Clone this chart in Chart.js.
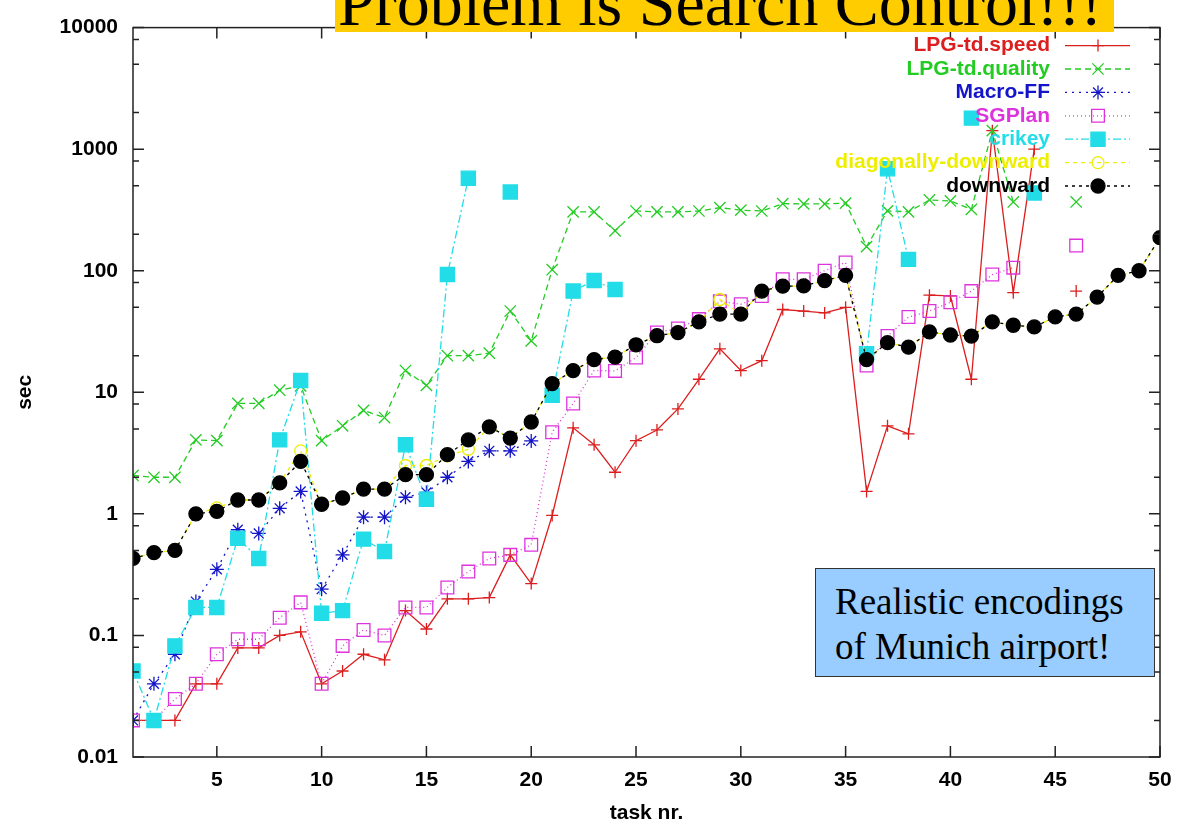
<!DOCTYPE html>
<html>
<head>
<meta charset="utf-8">
<script src="https://cdn.jsdelivr.net/npm/chart.js@4.4.1/dist/chart.umd.min.js"></script>
<style>
  body { margin: 0; background: #fff; }
  #wrap { position: relative; width: 1186px; height: 824px; }
  #banner { position: absolute; left: 335px; top: 0; width: 779px; height: 32px; background: #ffcc00; overflow: hidden; }
  #banner span { position: absolute; left: 3px; top: -30px; font: 66px/66px "Liberation Serif", serif; color: #000; white-space: nowrap; }
  #note { position: absolute; left: 815px; top: 568px; width: 338px; height: 107px; background: #99ccff; border: 1px solid #333;
          font: 37px/45px "Liberation Serif", serif; color: #000; padding: 0; box-sizing: content-box; }
  #note div { position: absolute; left: 19px; top: 10px; white-space: nowrap; }
</style>
</head>
<body>
<div id="wrap">
  <canvas id="chart"></canvas>
  <div id="banner"><span>Problem is Search Control!!!</span></div>
  <div id="note"><div>Realistic encodings<br>of Munich airport!</div></div>
</div>
<script>
// task numbers (x)
const tasks = [1,2,3,4,5,6,7,8,9,10,11,12,13,14,15,16,17,18,19,20,21,22,23,24,25,
  26,27,28,29,30,31,32,33,34,35,36,37,38,39,40,41,42,43,44,45,46,47,48,49,50];

const xTicks = [5,10,15,20,25,30,35,40,45,50];
const yTicks = [0.01,0.1,1,10,100,1000,10000];
const yTickLabels = ['0.01','0.1','1','10','100','1000','10000'];

// runtimes in sec, null = no solution
const lpgSpeed = [0.02,0.02,0.02,0.04,0.04,0.079,0.079,0.10,0.107,0.04,
  0.051,0.07,0.063,0.16,0.113,0.20,0.20,0.205,0.46,0.267,
  0.97,5.1,3.7,2.2,4.0,4.9,7.3,12.8,22.8,15.1,
  18.2,48,46.6,45,50,1.53,5.3,4.55,63,62,
  12.8,1420,66,1000,null,68,null,null,null,null];

const lpgQuality = [2.07,2.0,2.0,4.06,4.0,8.1,8.1,10.4,11.3,4.0,
  5.3,7.1,6.2,15.1,11.4,20,20,21,46.6,26.5,
  102,305,305,213,310,305,305,310,330,315,
  310,356,355,355,360,158,311,305,382,375,
  320,1420,368,null,null,368,null,null,null,null];

const macroFF = [0.02,0.04,0.07,0.19,0.35,0.74,0.69,1.11,1.53,0.24,
  0.46,0.94,0.94,1.37,1.5,2.0,2.7,3.3,3.3,3.98,
  null,null,null,null,null,null,null,null,null,null,
  null,null,null,null,null,null,null,null,null,null,
  null,null,null,null,null,null,null,null,null,null];

const sgPlan = [0.02,0.02,0.03,0.04,0.07,0.093,0.093,0.14,0.187,0.04,
  0.082,0.111,0.10,0.17,0.17,0.248,0.335,0.43,0.46,0.556,
  4.7,8.1,15.1,15,19.3,31,33.5,40,56,53,
  62,85,85,100,117,16.6,29,41.6,46.6,55,
  68,93,106,null,null,161,null,null,null,null];

const crikey = [0.051,0.02,0.082,0.17,0.17,0.63,0.43,4.06,12.5,0.152,
  0.16,0.62,0.49,3.7,1.32,93,577,null,444,null,
  9.46,68,83,70,null,null,null,null,null,null,
  null,null,null,null,null,20.8,690,124,null,null,
  1800,null,null,436,null,null,null,null,null,null];

const diagDownward = [0.43,0.48,0.50,1.0,1.12,1.3,1.3,1.8,3.3,1.2,
  1.35,1.6,1.6,2.5,2.5,3.0,3.4,5.2,4.2,5.7,
  11.8,15.1,18.6,19.5,24.6,29.2,31,38,58,44,
  68,74.6,75,83,91.6,18.6,25.6,23.5,31.4,29.6,
  29,38,35.6,34.5,41.7,44,60.7,91.6,100,187];

const downward = [0.43,0.48,0.50,1.0,1.05,1.3,1.3,1.8,2.7,1.2,
  1.35,1.6,1.6,2.1,2.1,3.07,4.06,5.2,4.2,5.7,
  11.8,15.1,18.6,19.5,24.6,29.2,31,38,44,44,
  68,74.6,75,83,91.6,18.6,25.6,23.5,31.4,29.6,
  29,38,35.6,34.5,41.7,44,60.7,91.6,100,187];

const pts = arr => arr.map((v, i) => ({ x: tasks[i], y: v }));

const series = [
  { label: 'LPG-td.speed', data: lpgSpeed, color: '#dc1e1e', dash: [], style: 'cross', r: 6, fill: false },
  { label: 'LPG-td.quality', data: lpgQuality, color: '#22cc22', dash: [6, 4], style: 'crossRot', r: 8, fill: false },
  { label: 'Macro-FF', data: macroFF, color: '#1414c8', dash: [2, 5], style: 'star', r: 7, fill: false },
  { label: 'SGPlan', data: sgPlan, color: '#dd33dd', dash: [1, 3], style: 'rect', r: 9, fill: false },
  { label: 'crikey', data: crikey, color: '#22dde8', dash: [8, 3, 2, 3], style: 'rect', r: 10, fill: true },
  { label: 'diagonally-downward', data: diagDownward, color: '#eeee00', dash: [4, 4], style: 'circle', r: 6, fill: false },
  { label: 'downward', data: downward, color: '#000000', dash: [3, 4], style: 'circle', r: 7, fill: true },
];

const FONT = '"Liberation Sans", Arial, sans-serif';

// frame, inward ticks and gnuplot-style key
const gnuplotFrame = {
  id: 'gnuplotFrame',
  afterDraw(chart) {
    const { ctx, chartArea: a, scales: { x, y } } = chart;
    ctx.save();
    ctx.strokeStyle = '#222';
    ctx.lineWidth = 1.5;
    ctx.setLineDash([]);
    ctx.strokeRect(a.left, a.top, a.right - a.left, a.bottom - a.top);
    ctx.beginPath();
    xTicks.forEach(v => {
      const px = x.getPixelForValue(v);
      ctx.moveTo(px, a.bottom); ctx.lineTo(px, a.bottom - 11);
      ctx.moveTo(px, a.top); ctx.lineTo(px, a.top + 11);
    });
    yTicks.forEach((v, i) => {
      const py = y.getPixelForValue(v);
      ctx.moveTo(a.left, py); ctx.lineTo(a.left + 11, py);
      ctx.moveTo(a.right, py); ctx.lineTo(a.right - 11, py);
      if (i < yTicks.length - 1) {
        [2, 5, 8].forEach(m => {
          const pm = y.getPixelForValue(v * m);
          ctx.moveTo(a.left, pm); ctx.lineTo(a.left + 6, pm);
          ctx.moveTo(a.right, pm); ctx.lineTo(a.right - 6, pm);
        });
      }
    });
    ctx.stroke();

    // key
    ctx.font = 'bold 21px ' + FONT;
    ctx.textAlign = 'right';
    ctx.textBaseline = 'middle';
    series.forEach((s, i) => {
      const ky = a.top + 18 + i * 23.4;
      const tx = a.right - 110;
      ctx.fillStyle = s.color;
      ctx.fillText(s.label, tx, ky);
      ctx.strokeStyle = s.color;
      ctx.lineWidth = 1.3;
      ctx.setLineDash(s.dash);
      ctx.beginPath();
      ctx.moveTo(a.right - 95, ky); ctx.lineTo(a.right - 30, ky);
      ctx.stroke();
      ctx.setLineDash([]);
      ctx.fillStyle = s.fill ? s.color : 'rgba(0,0,0,0)';
      Chart.helpers.drawPoint(ctx, { pointStyle: s.style, radius: s.r, borderWidth: 1.3, rotation: 0 }, a.right - 62, ky);
    });
    ctx.restore();
  }
};

new Chart(document.getElementById('chart'), {
  type: 'line',
  data: {
    datasets: series.map((s, i) => ({
      label: s.label,
      data: pts(s.data),
      borderColor: s.color,
      backgroundColor: s.fill ? s.color : 'rgba(0,0,0,0)',
      pointBackgroundColor: s.fill ? s.color : 'rgba(0,0,0,0)',
      pointBorderColor: s.color,
      borderDash: s.dash,
      borderWidth: 1.3,
      pointStyle: s.style,
      pointRadius: s.r,
      pointBorderWidth: 1.3,
      tension: 0,
      spanGaps: false,
      order: series.length - i,
    }))
  },
  options: {
    responsive: true,
    maintainAspectRatio: false,
    animation: false,
    devicePixelRatio: 1,
    layout: { padding: { top: 21, right: 26, left: 0, bottom: 0 } },
    scales: {
      x: {
        type: 'linear', min: 1, max: 50,
        afterBuildTicks: s => { s.ticks = xTicks.map(v => ({ value: v })); },
        afterFit: s => { s.height = 67; },
        grid: { display: false, drawTicks: false },
        border: { display: false },
        ticks: { color: '#000', padding: 11, font: { family: FONT, size: 21, weight: 'bold' }, autoSkip: false, maxRotation: 0 },
        title: { display: true, text: 'task nr.', color: '#000', font: { family: FONT, size: 21, weight: 'bold', lineHeight: 1 }, padding: { top: 0, bottom: 0 } }
      },
      y: {
        type: 'logarithmic', min: 0.01, max: 10000,
        afterBuildTicks: s => { s.ticks = yTicks.map(v => ({ value: v })); },
        afterFit: s => { s.width = 133; },
        grid: { display: false, drawTicks: false },
        border: { display: false },
        ticks: { color: '#000', padding: 15, font: { family: FONT, size: 21, weight: 'bold' }, autoSkip: false,
                 callback: (v, i) => yTickLabels[i] },
        title: { display: true, text: 'sec', color: '#000', font: { family: FONT, size: 21, weight: 'bold', lineHeight: 1 }, padding: { top: 15, bottom: 0 } }
      }
    },
    plugins: { legend: { display: false }, tooltip: { enabled: false } }
  },
  plugins: [gnuplotFrame]
});
</script>
</body>
</html>
